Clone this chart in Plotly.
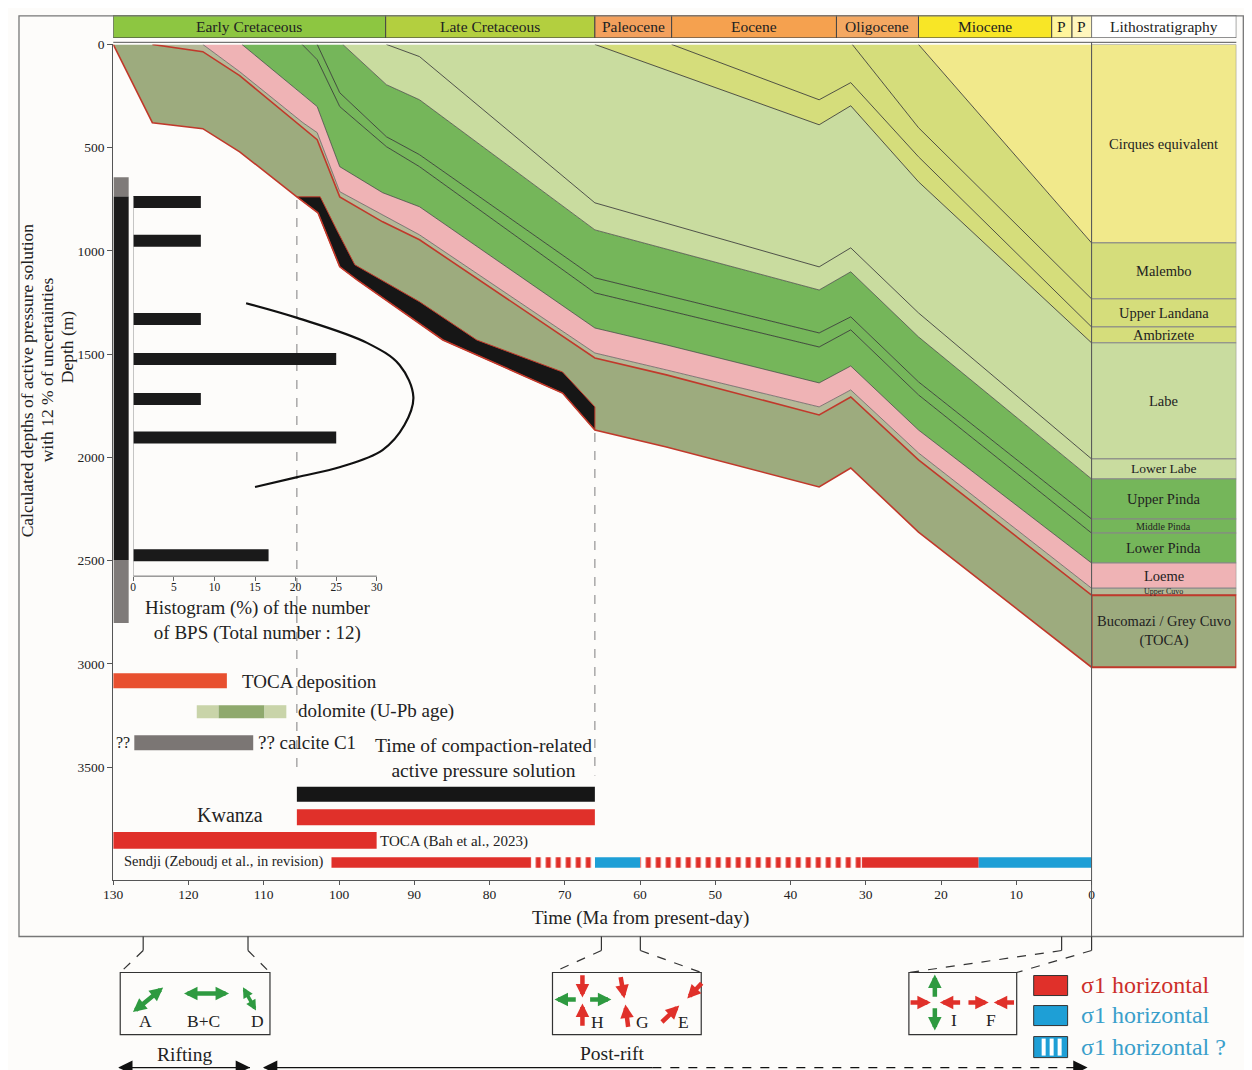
import plotly.graph_objects as go

W, H = 1252, 1070
FONT = "Liberation Serif"
INK = "#222222"
RED_LINE = "#c0392b"

# the rendered page shows the paper slightly shifted and scaled;
# positions below are written in target-picture pixels and mapped back
OX, SX = 17.6, 0.9905
OY, SY = 15.4, 0.9925

# ---------------------------------------------------------------- time scale
period_names = ["Early Cretaceous", "Late Cretaceous", "Paleocene", "Eocene",
                "Oligocene", "Miocene", "P", "P"]
period_old = [130.0, 93.8, 66.0, 55.8, 33.9, 23.0, 5.3, 2.6]
period_young = [93.8, 66.0, 55.8, 33.9, 23.0, 5.3, 2.6, 0.0]
period_colors = ["#8dc641", "#b3cf3f", "#f3a05c", "#f5a14f", "#f4a862",
                 "#f8e626", "#fff59c", "#fff6bd"]

time_ticks = [130, 120, 110, 100, 90, 80, 70, 60, 50, 40, 30, 20, 10, 0]
depth_ticks = [0, 500, 1000, 1500, 2000, 2500, 3000, 3500]

# ------------------------------------------- burial history (age Ma, depth m)
toca_base_t = [130.0, 124.8, 118.1, 113.2, 105.6, 102.8, 99.9, 97.6, 86.2, 70.3, 66.0, 56.5, 36.2, 32.0, 23.0, 0.0]
toca_base_d = [0, 379, 408, 520, 738, 815, 1077, 1140, 1431, 1688, 1867, 1949, 2143, 2051, 2361, 3016]

toca_top_t = [124.8, 118.1, 113.2, 102.9, 99.9, 94.2, 89.3, 66.0, 56.5, 36.2, 32.0, 23.0, 0.0]
toca_top_d = [0, 35, 151, 461, 738, 859, 946, 1518, 1600, 1794, 1707, 2012, 2667]

loeme_base_t = [118.1, 113.2, 104.8, 102.9, 99.9, 89.3, 66.0, 56.5, 36.2, 32.0, 23.0, 0.0]
loeme_base_d = [0, 132, 379, 427, 713, 922, 1494, 1576, 1755, 1673, 1978, 2633]

lower_pinda_base_t = [112.9, 104.9, 102.9, 99.9, 94.2, 89.3, 66.0, 56.5, 36.2, 32.0, 23.0, 0.0]
lower_pinda_base_d = [0, 243, 301, 592, 718, 786, 1373, 1455, 1639, 1557, 1867, 2511]

middle_pinda_base_t = [104.9, 102.9, 99.9, 93.7, 89.3, 66.0, 36.2, 32.0, 23.0, 0.0]
middle_pinda_base_d = [0, 74, 301, 495, 592, 1203, 1465, 1382, 1697, 2366]

upper_pinda_base_t = [102.9, 99.9, 93.7, 89.3, 66.0, 36.2, 32.0, 23.0, 0.0]
upper_pinda_base_d = [0, 234, 447, 534, 1130, 1397, 1319, 1634, 2298]

lower_labe_base_t = [99.5, 93.7, 89.3, 66.0, 36.2, 32.0, 23.0, 0.0]
lower_labe_base_d = [0, 195, 268, 898, 1189, 1101, 1416, 2104]

labe_base_t = [93.7, 89.3, 66.0, 36.2, 32.0, 23.0, 0.0]
labe_base_d = [0, 59, 767, 1077, 985, 1300, 2007]

ambrizete_base_t = [66.0, 36.2, 32.0, 23.0, 0.0]
ambrizete_base_d = [0, 389, 297, 665, 1445]

upper_landana_base_t = [55.8, 36.2, 32.0, 23.0, 0.0]
upper_landana_base_d = [0, 268, 185, 544, 1368]

malembo_base_t = [31.8, 23.0, 0.0]
malembo_base_d = [0, 403, 1232]

cirques_base_t = [23.0, 0.0]
cirques_base_d = [0, 961]

# black band: TOCA interval under active pressure solution
black_top_t = [105.6, 102.5, 100.3, 97.9, 89.3, 81.7, 70.3, 66.0]
black_top_d = [738, 738, 898, 1067, 1246, 1431, 1586, 1755]

C_CIRQ = "#f1e98b"
C_OLIVE = "#d5dd7b"
C_LABE = "#c9dc9f"
C_PINDA = "#75b65a"
C_LOEME = "#efb3b5"
C_UCUVO = "#b5b998"
C_TOCA = "#9dab7e"

# ------------------------------------------------------ lithostratigraphy
litho_names = ["Cirques equivalent", "Malembo", "Upper Landana", "Ambrizete", "Labe",
               "Lower Labe", "Upper Pinda", "Middle Pinda", "Lower Pinda", "Loeme",
               "Upper Cuvo", "Bucomazi / Grey Cuvo<br>(TOCA)"]
litho_top = [0, 961, 1232, 1368, 1445, 2007, 2104, 2298, 2366, 2511, 2633, 2667]
litho_base = [961, 1232, 1368, 1445, 2007, 2104, 2298, 2366, 2511, 2633, 2667, 3016]
litho_colors = [C_CIRQ, C_OLIVE, C_OLIVE, C_OLIVE, C_LABE, C_LABE, C_PINDA, C_PINDA,
                C_PINDA, C_LOEME, C_UCUVO, C_TOCA]
litho_font = [14.5, 14.5, 14.5, 14.5, 14.5, 13.5, 14.5, 10, 14.5, 14.5, 8, 14.5]

# ------------------------------------------------ BPS histogram (inset)
bps_depth = [763, 951, 1329, 1523, 1717, 1903, 2473]
bps_pct = [8.33, 8.33, 8.33, 25.0, 8.33, 25.0, 16.67]
fit_pct = [13.9, 20.2, 28.8, 32.8, 34.5, 33.4, 30.7, 25.5, 20.2, 15.0]
fit_depth = [1253, 1324, 1445, 1552, 1707, 1843, 1964, 2046, 2095, 2143]

unc_top = [643, 736, 2497]
unc_base = [736, 2497, 2802]
unc_colors = ["#7f7b79", "#1b1b1b", "#7f7b79"]

# ------------------------------------------------------- event time bars
toca_dep_ma = [130.0, 114.9]
dolomite_ma = [118.9, 116.0, 109.9, 107.0]
calcite_ma = [127.2, 111.4]
compaction_ma = [105.6, 66.0]
toca_bah_ma = [130.0, 95.0]
sendji_old = [101.0, 74.5, 66.0, 60.0, 30.5, 15.0]
sendji_young = [74.5, 66.0, 60.0, 30.5, 15.0, 0.0]
sendji_regime = ["red", "red?", "blue", "red?", "red", "blue"]
lane_depth = [3081, 3231, 3381, 3631, 3742, 3854, 3961]


def px(x):
    return min(max((x - OX) / SX / W, 0.0), 1.0)


def py(y):
    return min(max(1 - (y - OY) / SY / H, 0.0), 1.0)


fig = go.Figure()

# header periods
fig.add_trace(go.Bar(
    orientation="h", y=[0.5] * len(period_names),
    x=[o - y for o, y in zip(period_old, period_young)], base=period_young,
    width=1, xaxis="x", yaxis="y2",
    marker=dict(color=period_colors, line=dict(color="#444", width=1)),
    hoverinfo="skip"))
fig.add_trace(go.Bar(
    orientation="h", y=[0.5], x=[1], base=[0], width=1, xaxis="x3", yaxis="y2",
    marker=dict(color="white", line=dict(color="#444", width=1)), hoverinfo="skip"))

# burial layers
boundaries = [
    (toca_base_t, toca_base_d, RED_LINE, 1.6),
    (toca_top_t, toca_top_d, RED_LINE, 1.6),
    (loeme_base_t, loeme_base_d, "#555", 0.7),
    (lower_pinda_base_t, lower_pinda_base_d, "#3c3c3c", 0.7),
    (middle_pinda_base_t, middle_pinda_base_d, "#2c2c2c", 0.8),
    (upper_pinda_base_t, upper_pinda_base_d, "#2c2c2c", 0.8),
    (lower_labe_base_t, lower_labe_base_d, "#3c3c3c", 0.7),
    (labe_base_t, labe_base_d, "#2c2c2c", 0.8),
    (ambrizete_base_t, ambrizete_base_d, "#2c2c2c", 0.8),
    (upper_landana_base_t, upper_landana_base_d, "#2c2c2c", 0.8),
    (malembo_base_t, malembo_base_d, "#2c2c2c", 0.8),
    (cirques_base_t, cirques_base_d, "#2c2c2c", 0.8),
]
layer_colors = [C_TOCA, C_UCUVO, C_LOEME, C_PINDA, C_PINDA, C_PINDA, C_LABE, C_LABE,
                C_OLIVE, C_OLIVE, C_OLIVE, C_CIRQ]
surface = ([0.0], [0])
for i, color in enumerate(layer_colors):
    lt, ld = boundaries[i][0], boundaries[i][1]
    ut, ud = (boundaries[i + 1][0], boundaries[i + 1][1]) if i + 1 < len(boundaries) else surface
    fig.add_trace(go.Scatter(
        x=lt + ut[::-1], y=ld + ud[::-1], mode="lines", fill="toself",
        fillcolor=color, line=dict(width=0), hoverinfo="skip"))

# black band along the TOCA base
sub = [(t, d) for t, d in zip(toca_base_t, toca_base_d) if compaction_ma[1] <= t <= compaction_ma[0]]
fig.add_trace(go.Scatter(
    x=[t for t, _ in sub] + black_top_t[::-1],
    y=[d for _, d in sub] + black_top_d[::-1],
    mode="lines", fill="toself", fillcolor="#161616",
    line=dict(color=RED_LINE, width=1), hoverinfo="skip"))

for bt, bd, lc, lw in boundaries[::-1]:
    fig.add_trace(go.Scatter(x=bt, y=bd, mode="lines", line=dict(color=lc, width=lw),
                             hoverinfo="skip"))

# dashed markers of the compaction window
for t in compaction_ma:
    d0 = toca_base_d[toca_base_t.index(t)]
    fig.add_trace(go.Scatter(x=[t, t], y=[d0 + 15, 3540], mode="lines",
                             line=dict(color="#8a8a8a", width=1.1, dash="dash"),
                             hoverinfo="skip"))

# lithostratigraphic column
fig.add_trace(go.Bar(
    x=[0.5] * len(litho_names), y=[b - t for t, b in zip(litho_top, litho_base)],
    base=litho_top, width=1, xaxis="x3", yaxis="y",
    marker=dict(color=litho_colors,
                line=dict(color=["#888"] * 11 + [RED_LINE], width=[1] * 11 + [2])),
    hoverinfo="skip"))

# uncertainty column of BPS depths
fig.add_trace(go.Bar(
    x=[128.95] * 3, y=[b - t for t, b in zip(unc_top, unc_base)], base=unc_top,
    width=2.0, marker=dict(color=unc_colors, line=dict(width=0)), hoverinfo="skip"))

# histogram inset
fig.add_trace(go.Bar(
    orientation="h", y=bps_depth, x=bps_pct, width=58, xaxis="x2", yaxis="y",
    marker=dict(color="#1a1a1a", line=dict(width=0)), hoverinfo="skip"))
fig.add_trace(go.Scatter(
    x=fit_pct, y=fit_depth, xaxis="x2", yaxis="y", mode="lines",
    line=dict(color="#111", width=2.2, shape="spline", smoothing=1.0), hoverinfo="skip"))


def hbar(old, young, depth, width, color, **marker):
    fig.add_trace(go.Bar(
        orientation="h", y=[depth] * len(old), x=[o - y for o, y in zip(old, young)],
        base=young, width=width,
        marker=dict(color=color, line=dict(width=0), **marker), hoverinfo="skip"))


hbar([toca_dep_ma[0]], [toca_dep_ma[1]], lane_depth[0], 73, "#e8502f")
hbar(dolomite_ma[:-1], dolomite_ma[1:], lane_depth[1], 63, ["#c9d4a9", "#8fa96d", "#c9d4a9"])
hbar([calcite_ma[0]], [calcite_ma[1]], lane_depth[2], 73, "#7b7674")
hbar([compaction_ma[0]], [compaction_ma[1]], lane_depth[3], 73, "#161616")
hbar([compaction_ma[0]], [compaction_ma[1]], lane_depth[4], 78, "#e0302a")
hbar([toca_bah_ma[0]], [toca_bah_ma[1]], lane_depth[5], 80, "#e0302a")
for regime, color, pat in [("red", "#e0302a", None), ("blue", "#1e9fd6", None), ("red?", "white", "|")]:
    o = [a for a, r in zip(sendji_old, sendji_regime) if r == regime]
    y = [b for b, r in zip(sendji_young, sendji_regime) if r == regime]
    if pat:
        hbar(o, y, lane_depth[6], 51, color,
             pattern=dict(shape="|", fgcolor="#e0302a", bgcolor="white", size=10,
                          solidity=0.5, fillmode="replace"))
    else:
        hbar(o, y, lane_depth[6], 51, color)

# ------------------------------------------------------------- annotations
ann = []


def text(x, y, s, size, color=INK, xanchor="center", yanchor="middle", xref="paper",
         yref="paper", angle=0):
    ann.append(dict(x=x, y=y, xref=xref, yref=yref, text=s, showarrow=False,
                    font=dict(size=size, color=color, family=FONT), xanchor=xanchor,
                    yanchor=yanchor, textangle=angle))


for name, o, y in zip(period_names, period_old, period_young):
    text((o + y) / 2, py(26.5), name, 15.5, xref="x")
text(0.5, py(26.5), "Lithostratigraphy", 15.5, xref="x3")

for name, t, b, fs in zip(litho_names, litho_top, litho_base, litho_font):
    text(0.5, (t + b) / 2, name, fs, xref="x3", yref="y")

text(px(27), py(380), "Calculated depths of active pressure solution", 17.5, angle=-90)
text(px(47), py(370), "with 12 % of uncertainties", 17.5, angle=-90)
text(px(67), py(347), "Depth (m)", 17.5, angle=-90)
text(px(641), py(918), "Time (Ma from present-day)", 19)
text(px(258), py(620), "Histogram (%) of the number<br>of BPS (Total number : 12)", 19)

text(px(240), py(681), "TOCA deposition", 19, xanchor="left")
text(px(296), py(711), "dolomite (U-Pb age)", 19, xanchor="left")
text(px(114), py(742), "??", 16, xanchor="left")
text(px(256), py(742), "?? calcite C1", 19, xanchor="left")
text(px(484), py(758), "Time of compaction-related<br>active pressure solution", 19.5)
text(px(230), py(815), "Kwanza", 20)
text(px(378), py(841), "TOCA (Bah et al., 2023)", 15, xanchor="left")
text(px(122), py(861), "Sendji (Zeboudj et al., in revision)", 14.5, xanchor="left")

# stress-regime sketches
for s, x, y in [("A", 145, 1020), ("B+C", 203, 1020), ("D", 258, 1020),
                ("H", 598, 1021), ("G", 643, 1021), ("E", 684, 1021),
                ("I", 955, 1019), ("F", 992, 1019)]:
    text(px(x), py(y), s, 17.5)
text(px(185), py(1054), "Rifting", 19.5)
text(px(613), py(1053), "Post-rift", 19.5)
for y, color, s in [(984, "#cc2f2a", "σ1 horizontal"), (1014, "#3a9fcb", "σ1 horizontal"),
                    (1046, "#3a9fcb", "σ1 horizontal ?")]:
    text(px(1080), py(y), s, 24, color=color, xanchor="left")


def arrow(x0, y0, x1, y1, color, both=False, width=4.5, size=0.6):
    ann.append(dict(x=px(x1), y=py(y1), xref="paper", yref="paper", ax=(x0 - x1) * SX,
                    ay=(y0 - y1) * SY, text="", showarrow=True, arrowcolor=color,
                    arrowwidth=width, arrowhead=2, arrowsize=size,
                    arrowside="end+start" if both else "end",
                    startarrowhead=2, startarrowsize=size))


GREEN, RED = "#2e9a40", "#e0302a"
arrow(131, 1013, 163, 987, GREEN, both=True)
arrow(182, 993, 229, 993, GREEN, both=True)
arrow(242, 985, 256, 1010, GREEN, both=True, width=3.5)
arrow(583, 973, 583, 997, RED)
arrow(583, 1027, 583, 1003, RED)
arrow(578, 999, 555, 999, GREEN)
arrow(589, 999, 612, 999, GREEN)
arrow(621, 975, 625, 998, RED)
arrow(629, 1028, 626, 1004, RED)
arrow(704, 981, 688, 998, RED)
arrow(661, 1023, 680, 1005, RED)
arrow(936, 998, 936, 974, GREEN)
arrow(936, 1006, 936, 1030, GREEN)
arrow(910, 1002, 932, 1002, RED)
arrow(963, 1002, 941, 1002, RED)
arrow(968, 1002, 990, 1002, RED)
arrow(1017, 1002, 995, 1002, RED)
arrow(130, 1067, 118, 1067, "#111", width=1.3, size=2.2)
arrow(238, 1067, 250, 1067, "#111", width=1.3, size=2.2)
arrow(276, 1067, 263, 1067, "#111", width=1.3, size=2.2)
arrow(1074, 1067, 1089, 1067, "#111", width=1.3, size=2.2)

# ------------------------------------------------------------------ shapes
shapes = []


def line(x0, y0, x1, y1, color="#555", width=1, dash=None):
    shapes.append(dict(type="line", xref="paper", yref="paper", x0=px(x0), y0=py(y0),
                       x1=px(x1), y1=py(y1), line=dict(color=color, width=width, dash=dash)))


def rect(x0, y0, x1, y1, fill=None, color="#444", width=1):
    shapes.append(dict(type="rect", xref="paper", yref="paper", x0=px(x0), y0=py(y0),
                       x1=px(x1), y1=py(y1), fillcolor=fill or "rgba(0,0,0,0)",
                       line=dict(color=color, width=width)))


shapes.append(dict(type="rect", xref="paper", yref="paper", x0=0.0008, x1=px(1245),
                   y0=py(936), y1=0.9992, line=dict(color="#777", width=1.3)))
line(113, 42.7, 1238, 42.7, "#555", 1)
line(1093, 42.7, 1093, 936, "#555", 1)
# histogram axis lines
shapes.append(dict(type="line", xref="x2", yref="paper", x0=0, x1=30, y0=py(576), y1=py(576),
                   line=dict(color="#666", width=1)))
shapes.append(dict(type="line", xref="x2", yref="y", x0=0, x1=0, y0=738, y1=2574,
                   line=dict(color="#999", width=1)))

# sketch boxes and connectors
for xa, xb, bx0, bx1 in [(143, 248, 120, 270), (602, 641, 553, 702), (1063, 1093, 910, 1018)]:
    line(xa, 936, xa, 950, "#333", 1.2)
    line(xb, 936, xb, 950, "#333", 1.2)
    line(xa, 950, bx0, 972, "#333", 1.2, "dash")
    line(xb, 950, bx1, 972, "#333", 1.2, "dash")
    rect(bx0, 972, bx1, 1034, color="#333", width=1.2)

line(119, 1067, 250, 1067, "#111", 1.3)
line(264, 1067, 653, 1067, "#111", 1.3)
line(653, 1067, 1080, 1067, "#111", 1.3, "dash")

# sigma-1 legend swatches
rect(1035, 975, 1069, 995, fill="#e0302a", color="#333", width=1)
rect(1035, 1005, 1069, 1025, fill="#1e9fd6", color="#333", width=1)
rect(1035, 1036, 1069, 1057, fill="#1e9fd6", color="#333", width=1)
for sx in [1043, 1051, 1059]:
    rect(sx, 1038, sx + 4, 1055, fill="white", color="white", width=0)

axis_font = dict(size=13.5, color=INK, family=FONT)
fig.update_layout(
    width=W, height=H, margin=dict(l=0, r=0, t=0, b=0),
    paper_bgcolor="#fdfcfa", plot_bgcolor="rgba(0,0,0,0)",
    showlegend=False, barmode="overlay", font=dict(family=FONT, color=INK),
    xaxis=dict(domain=[px(113), px(1093)], range=[130, 0], anchor="y",
               tickmode="array", tickvals=time_ticks, ticks="outside", ticklen=4,
               ticklabelstandoff=-3,
               tickcolor="#555", showline=True, linecolor="#555", linewidth=1,
               showgrid=False, zeroline=False, tickfont=axis_font),
    yaxis=dict(domain=[py(880), py(44.8)], range=[4048, 0], anchor="x",
               tickmode="array", tickvals=depth_ticks, ticks="outside", ticklen=5,
               tickcolor="#555", showline=True, linecolor="#555", linewidth=1,
               showgrid=False, zeroline=False, tickfont=axis_font),
    xaxis2=dict(domain=[px(133), px(460)], range=[0, 40.2], anchor="free",
                position=py(576), tickmode="array", tickvals=[0, 5, 10, 15, 20, 25, 30],
                ticks="outside", ticklen=4, tickcolor="#666", showline=False,
                ticklabelstandoff=-4,
                showgrid=False, zeroline=False,
                tickfont=dict(size=11.5, color=INK, family=FONT)),
    xaxis3=dict(domain=[px(1093), px(1238)], range=[0, 1], anchor="y", visible=False),
    yaxis2=dict(domain=[py(38.3), py(13.3)], range=[0, 1], anchor="x", visible=False),
    annotations=ann, shapes=shapes,
)

fig.write_html("out.html", config={"displayModeBar": False})
